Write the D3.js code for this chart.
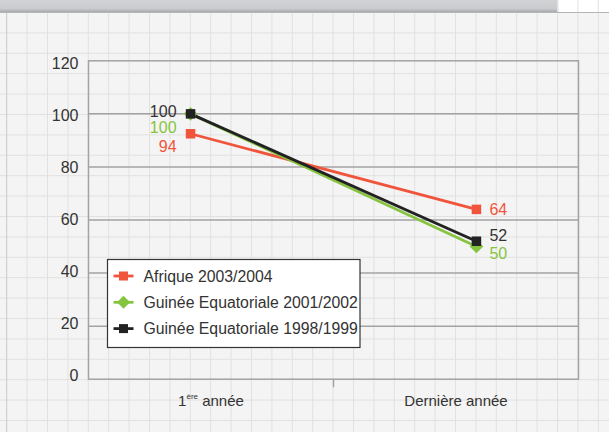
<!DOCTYPE html>
<html><head><meta charset="utf-8">
<script src="https://cdn.jsdelivr.net/npm/d3@7"></script>
<style>html,body{margin:0;padding:0;background:#f4f4f4;}svg{display:block;}</style>
</head><body>
<script>
const categories = ["1ère année", "Dernière année"];
const seriesNames = ["Afrique 2003/2004", "Guinée Equatoriale 2001/2002", "Guinée Equatoriale 1998/1999"];
const afrique = [92.5, 64];
const guinee2001 = [100, 50];
const guinee1998 = [100, 52];
const afriqueLabels = ["94", "64"];
const guinee2001Labels = ["100", "50"];
const guinee1998Labels = ["100", "52"];
const yTicks = [0, 20, 40, 60, 80, 100, 120];

const W = 609, H = 432;
const svg = d3.select("body").append("svg").attr("width", W).attr("height", H);
const font = "'Liberation Sans', Arial, sans-serif";

// spreadsheet background
svg.append("rect").attr("width", W).attr("height", H).attr("fill", "#f4f4f4");
const gs = 20.4;
const bg = svg.append("g");
bg.selectAll(".gh").data(d3.range(0, 21)).join("line")
  .attr("x1", 0).attr("x2", W)
  .attr("y1", d => 12 + d * gs + 0.5).attr("y2", d => 12 + d * gs + 0.5)
  .attr("stroke", "#e1e1e1").attr("stroke-width", 1);
bg.selectAll(".gv").data(d3.range(0, 30)).join("line")
  .attr("y1", 0).attr("y2", H)
  .attr("x1", d => 6.7 + d * gs).attr("x2", d => 6.7 + d * gs)
  .attr("stroke", d => d === 0 ? "#c8c8c8" : "#e1e1e1").attr("stroke-width", 1);
// header bar
const grad = svg.append("defs").append("linearGradient").attr("id", "hb").attr("x1", 0).attr("x2", 0).attr("y1", 0).attr("y2", 1);
grad.append("stop").attr("offset", "0%").attr("stop-color", "#d2d3d5");
grad.append("stop").attr("offset", "70%").attr("stop-color", "#cbcccf");
grad.append("stop").attr("offset", "100%").attr("stop-color", "#a9aaad");
svg.append("rect").attr("x", 0).attr("y", 0).attr("width", 558.5).attr("height", 12).attr("fill", "url(#hb)");
svg.append("line").attr("x1", 0).attr("x2", W).attr("y1", 12.5).attr("y2", 12.5).attr("stroke", "#b5b5b5");
svg.append("rect").attr("x", 558.5).attr("y", 0).attr("width", W - 558.5).attr("height", 12).attr("fill", "#ffffff");
svg.selectAll(".vb").data(d3.range(27, 30)).join("line")
  .attr("y1", 0).attr("y2", 12).attr("x1", d => 6.7 + d * gs).attr("x2", d => 6.7 + d * gs)
  .attr("stroke", "#e1e1e1");

// plot
const pLeft = 88.5, pRight = 578.5, pTop = 60.8, pBottom = 379.2;
const y = d3.scaleLinear().domain([0, 120]).range([pBottom, pTop]);
const yLab = d3.scaleLinear().domain([0, 120]).range([375, 63]);
const xBand = d3.scaleBand().domain(categories).range([pLeft, pRight]);
const xPt = d3.scalePoint().domain(categories).range([pLeft, pRight]).padding(0.357);

const g = svg.append("g");
// gridlines
g.selectAll(".grid").data(yTicks.filter(t => t > 0 && t < 120)).join("line")
  .attr("x1", pLeft).attr("x2", pRight)
  .attr("y1", d => y(d)).attr("y2", d => y(d))
  .attr("stroke", "#a3a3a6").attr("stroke-width", 1.5);
// border
g.append("rect").attr("x", pLeft).attr("y", pTop).attr("width", pRight - pLeft).attr("height", pBottom - pTop)
  .attr("fill", "none").attr("stroke", "#a3a3a6").attr("stroke-width", 1.5);

// y axis
const yAxis = d3.axisLeft(y).tickValues(yTicks).tickSize(0).tickPadding(10).tickFormat(d3.format("d"));
const ya = g.append("g").attr("transform", `translate(${pLeft},0)`).call(yAxis);
ya.select(".domain").remove();
ya.selectAll("text").attr("font-family", font).attr("font-size", 16).attr("fill", "#333")
  .attr("y", d => yLab(d) - y(d)).attr("dy", "0.36em");

// x axis
const xa = g.append("g").attr("transform", `translate(0,${pBottom})`)
  .call(d3.axisBottom(xBand).tickSize(0).tickFormat(""));
xa.select(".domain").remove();
xa.selectAll(".tick").remove();
g.append("line").attr("x1", xBand(categories[1])).attr("x2", xBand(categories[1]))
  .attr("y1", pBottom).attr("y2", pBottom + 8).attr("stroke", "#a3a3a6").attr("stroke-width", 1.5);
const xl = g.selectAll(".xlab").data(categories).join("text")
  .attr("x", d => xBand(d) + xBand.bandwidth() / 2)
  .attr("y", 406).attr("text-anchor", "middle")
  .attr("font-family", font).attr("font-size", 15).attr("fill", "#333");
xl.each(function(d) {
  const t = d3.select(this);
  if (d.startsWith("1ère")) {
    t.append("tspan").text("1");
    t.append("tspan").text("ère").attr("font-size", 8).attr("dy", -7);
    t.append("tspan").text(" année").attr("dy", 7);
  } else t.text(d);
});

// series
const series = [
  {name: seriesNames[0], values: afrique, labels: afriqueLabels, color: "#f0553b", text: "#f0553b", marker: "square", lOff: [12, 0]},
  {name: seriesNames[1], values: guinee2001, labels: guinee2001Labels, color: "#86c440", text: "#86c440", marker: "diamond", lOff: [13, 7]},
  {name: seriesNames[2], values: guinee1998, labels: guinee1998Labels, color: "#222222", text: "#333333", marker: "square", lOff: [-3, -6]}
];
const line = d3.line().x((d, i) => xPt(categories[i])).y(d => y(d));
function marker(sel, s, size) {
  if (s.marker === "square") sel.append("rect").attr("x", -size / 2).attr("y", -size / 2).attr("width", size).attr("height", size).attr("fill", s.color);
  else sel.append("path").attr("d", `M0,${-size * 0.72}L${size * 0.72},0L0,${size * 0.72}L${-size * 0.72},0Z`).attr("fill", s.color);
}
series.forEach(s => {
  g.append("path").datum(s.values).attr("d", line).attr("fill", "none").attr("stroke", s.color).attr("stroke-width", 2.8);
});
series.forEach(s => {
  s.values.forEach((v, i) => {
    const m = g.append("g").attr("transform", `translate(${xPt(categories[i])},${y(v)})`);
    marker(m, s, 9.5);
  });
});
// data labels
series.forEach(s => {
  s.values.forEach((v, i) => {
    const isLeft = i === 0;
    g.append("text")
      .attr("x", xPt(categories[i]) + (isLeft ? -14 : 13))
      .attr("y", y(v) + s.lOff[i])
      .attr("dy", "0.36em")
      .attr("text-anchor", isLeft ? "end" : "start")
      .attr("font-family", font).attr("font-size", 16).attr("fill", s.text)
      .text(s.labels[i]);
  });
});

// legend
const lg = svg.append("g").attr("transform", "translate(107.5,259.5)");
lg.append("rect").attr("width", 252.5).attr("height", 88).attr("fill", "#ffffff").attr("stroke", "#333").attr("stroke-width", 1.2);
series.forEach((s, i) => {
  const r = lg.append("g").attr("transform", `translate(0,${16.5 + i * 26.3})`);
  r.append("line").attr("x1", 6).attr("x2", 26).attr("stroke", s.color).attr("stroke-width", 2.8);
  const m = r.append("g").attr("transform", "translate(16,0)");
  marker(m, s, 9);
  r.append("text").attr("x", 36).attr("dy", "0.36em").attr("font-family", font).attr("font-size", 15.8).attr("fill", "#333").text(s.name);
});
</script>
</body></html>
